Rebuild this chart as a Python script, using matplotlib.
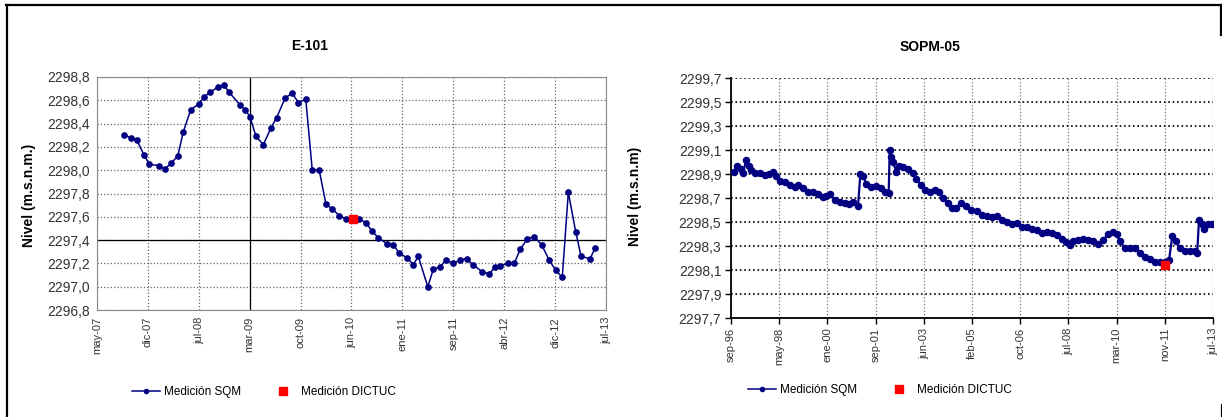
import numpy as np
import matplotlib
matplotlib.use('Agg')
import matplotlib.pyplot as plt
from matplotlib.lines import Line2D

plt.rcParams['font.family'] = ['Liberation Sans', 'DejaVu Sans']

# E-101 (dias desde 2007-05-01)
e101_start = '2007-05-01'
e101_span = 2270
e101_days = [122, 150, 177, 210, 233, 278, 303, 330, 360, 385,
             418, 455, 479, 504, 538, 566, 589, 638, 660, 682,
             709, 742, 775, 801, 839, 871, 898, 931, 960, 991,
             1021, 1047, 1081, 1111, 1170, 1200, 1225, 1255, 1292, 1322,
             1347, 1381, 1411, 1433, 1475, 1500, 1530, 1557, 1589, 1619,
             1649, 1676, 1716, 1750, 1775, 1797, 1834, 1861, 1887, 1919,
             1949, 1983, 2016, 2046, 2075, 2102, 2135, 2159, 2199, 2221]
e101_nivel = [2298.30, 2298.28, 2298.26, 2298.13, 2298.05, 2298.04, 2298.01, 2298.06, 2298.12, 2298.33,
              2298.52, 2298.57, 2298.63, 2298.67, 2298.71, 2298.73, 2298.67, 2298.56, 2298.52, 2298.46,
              2298.29, 2298.22, 2298.36, 2298.45, 2298.62, 2298.66, 2298.58, 2298.61, 2298.00, 2298.00,
              2297.71, 2297.67, 2297.61, 2297.58, 2297.58, 2297.55, 2297.48, 2297.42, 2297.37, 2297.36,
              2297.29, 2297.25, 2297.19, 2297.26, 2297.00, 2297.15, 2297.17, 2297.23, 2297.20, 2297.23,
              2297.24, 2297.19, 2297.13, 2297.11, 2297.17, 2297.18, 2297.20, 2297.20, 2297.32, 2297.41,
              2297.43, 2297.36, 2297.23, 2297.14, 2297.08, 2297.81, 2297.47, 2297.26, 2297.24, 2297.33]
e101_dictuc_days = [1143]
e101_dictuc_nivel = [2297.58]
e101_xlabels = ['may-07', 'dic-07', 'jul-08', 'mar-09', 'oct-09', 'jun-10',
                'ene-11', 'sep-11', 'abr-12', 'dic-12', 'jul-13']

# SOPM-05 (dias desde 1996-09-01)
sopm_start = '1996-09-01'
sopm_span = 6175
sopm_days = [38, 81, 124, 154, 196, 226, 261, 303, 367, 431,
             483, 538, 581, 624, 688, 752, 816, 858, 922, 986,
             1050, 1114, 1179, 1221, 1264, 1328, 1392, 1456, 1508, 1563,
             1627, 1657, 1691, 1733, 1797, 1861, 1925, 1969, 2020, 2033,
             2045, 2075, 2118, 2148, 2203, 2267, 2331, 2374, 2430, 2481,
             2545, 2609, 2661, 2716, 2780, 2831, 2886, 2950, 3014, 3078,
             3147, 3211, 3275, 3339, 3403, 3467, 3532, 3596, 3660, 3724,
             3788, 3852, 3916, 3980, 4044, 4108, 4172, 4236, 4291, 4343,
             4385, 4449, 4513, 4577, 4641, 4705, 4769, 4833, 4890, 4941,
             4983, 5047, 5111, 5175, 5239, 5303, 5368, 5432, 5496, 5560,
             5611, 5653, 5697, 5752, 5816, 5880, 5944, 5973, 5995, 6037,
             6063, 6106, 6157]
sopm_nivel = [2298.92, 2298.97, 2298.94, 2298.91, 2299.02, 2298.97, 2298.93, 2298.91, 2298.91, 2298.89,
              2298.90, 2298.92, 2298.88, 2298.84, 2298.83, 2298.81, 2298.79, 2298.81, 2298.78, 2298.75,
              2298.75, 2298.73, 2298.71, 2298.72, 2298.73, 2298.68, 2298.67, 2298.66, 2298.65, 2298.67,
              2298.63, 2298.90, 2298.88, 2298.82, 2298.79, 2298.80, 2298.78, 2298.75, 2298.74, 2299.10,
              2299.04, 2299.00, 2298.92, 2298.97, 2298.96, 2298.94, 2298.91, 2298.86, 2298.81, 2298.77,
              2298.75, 2298.77, 2298.75, 2298.70, 2298.66, 2298.62, 2298.62, 2298.66, 2298.63, 2298.60,
              2298.59, 2298.56, 2298.55, 2298.54, 2298.55, 2298.52, 2298.50, 2298.48, 2298.49, 2298.46,
              2298.46, 2298.44, 2298.43, 2298.41, 2298.42, 2298.41, 2298.39, 2298.36, 2298.33, 2298.31,
              2298.34, 2298.35, 2298.36, 2298.35, 2298.34, 2298.32, 2298.35, 2298.40, 2298.42, 2298.40,
              2298.34, 2298.28, 2298.28, 2298.28, 2298.24, 2298.21, 2298.19, 2298.17, 2298.17, 2298.17,
              2298.18, 2298.38, 2298.34, 2298.28, 2298.26, 2298.26, 2298.26, 2298.24, 2298.52, 2298.48,
              2298.44, 2298.48, 2298.48]
sopm_dictuc_days = [5560]
sopm_dictuc_nivel = [2298.14]
sopm_xlabels = ['sep-96', 'may-98', 'ene-00', 'sep-01', 'jun-03', 'feb-05',
                'oct-06', 'jul-08', 'mar-10', 'nov-11', 'jul-13']

NAVY = '#000080'
W, H = 1222, 417


def to_dates(start, days):
    return np.datetime64(start) + np.array(days).astype('timedelta64[D]')


def panel(ax, start, span, days, nivel, d_days, d_nivel, xlabels, y0, y1,
          ms=3.8, lw=1.1):
    ax.plot(to_dates(start, days), nivel, color=NAVY, marker='o', ms=ms,
            lw=lw, zorder=3)
    ax.plot(to_dates(start, d_days), d_nivel, ls='none', marker='s',
            color='red', ms=6, zorder=4)
    xt = to_dates(start, np.round(np.linspace(0, span, len(xlabels))))
    ax.set_xlim(xt[0], xt[-1])
    ax.set_xticks(xt)
    ax.set_xticklabels(xlabels, rotation=90, fontsize=8, color='#333333')
    yt = np.round(np.arange(y0, y1 + 0.01, 0.2), 1)
    ax.set_ylim(y0, y1)
    ax.set_yticks(yt)
    ax.set_yticklabels([f'{v:.1f}'.replace('.', ',') for v in yt],
                       fontsize=10, color='#333333')
    return xt


fig = plt.figure(figsize=(W / 100, H / 100), dpi=100)

# E-101
ax1 = fig.add_axes([97 / W, 1 - 310 / H, 509 / W, 233 / H])
xt1 = panel(ax1, e101_start, e101_span, e101_days, e101_nivel,
            e101_dictuc_days, e101_dictuc_nivel, e101_xlabels, 2296.8, 2298.8)
ax1.grid(True, color='#666666', ls=':', lw=0.9)
ax1.axvline(xt1[3], color='black', lw=0.9, zorder=2)
ax1.axhline(2297.4, color='black', lw=0.9, zorder=2)
ax1.tick_params(length=0, pad=5)
for s in ax1.spines.values():
    s.set_color('#888888')
    s.set_linewidth(0.8)

# SOPM-05
ax2 = fig.add_axes([731 / W, 1 - 318 / H, 482 / W, 240 / H])
panel(ax2, sopm_start, sopm_span, sopm_days, sopm_nivel,
      sopm_dictuc_days, sopm_dictuc_nivel, sopm_xlabels, 2297.7, 2299.7,
      ms=4.4, lw=1.6)
ax2.grid(True, axis='y', color='black', ls=':', lw=1.2)
ax2.grid(True, axis='x', color='#777777', ls=':', lw=0.9)
ax2.spines['top'].set_visible(False)
ax2.spines['right'].set_visible(False)
ax2.spines['left'].set_linewidth(1.3)
ax2.spines['bottom'].set_linewidth(1.3)
ax2.tick_params(length=4, width=1, direction='out', pad=3)

# titulos y etiquetas
fig.text(310 / W, 1 - 46 / H, 'E-101', ha='center', va='center',
         fontsize=10, weight='bold')
fig.text(930 / W, 1 - 47 / H, 'SOPM-05', ha='center', va='center',
         fontsize=10, weight='bold')
fig.text(29 / W, 1 - 195 / H, 'Nivel (m.s.n.m.)', rotation=90,
         ha='center', va='center', fontsize=10, weight='bold')
fig.text(635 / W, 1 - 196 / H, 'Nivel (m.s.n.m)', rotation=90,
         ha='center', va='center', fontsize=10, weight='bold')

# leyendas
handles = [Line2D([], [], color=NAVY, marker='o', ms=3, lw=1.1),
           Line2D([], [], color='red', marker='s', ms=5.5, ls='none')]
names = ['Medición SQM', 'Medición DICTUC']
for cx, cy in [(264, 392), (880, 390)]:
    fig.legend(handles, names, loc='center', bbox_to_anchor=(cx / W, 1 - cy / H),
               ncol=2, frameon=False, fontsize=8.5, handlelength=2.4,
               handletextpad=0.3, columnspacing=2.4)

# marco
frame = dict(color='black', lw=1.6, transform=fig.transFigure)
fig.add_artist(Line2D([6 / W, 1221 / W], [1 - 5 / H, 1 - 5 / H], **frame))
fig.add_artist(Line2D([6.5 / W, 6.5 / W], [0, 1 - 5 / H], **frame))
fig.add_artist(Line2D([1221 / W, 1221 / W], [1 - 5 / H, 1 - 35 / H], **frame))
fig.add_artist(Line2D([1221.5 / W, 1221.5 / W], [0, 1 - 405 / H], **frame))

fig.savefig('out.png', dpi=100)
